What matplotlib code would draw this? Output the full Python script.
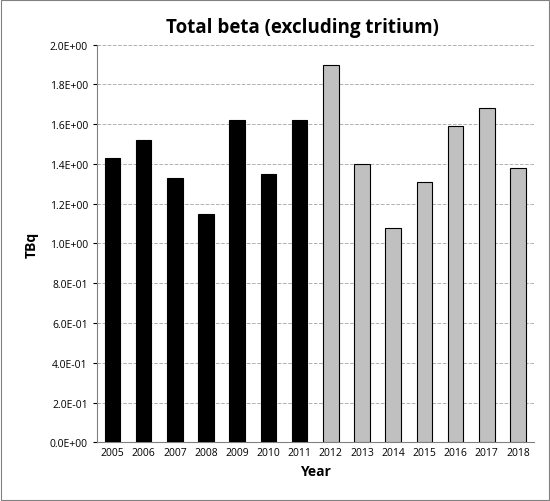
import matplotlib
matplotlib.use("Agg")
import matplotlib.pyplot as plt
from matplotlib.patches import Rectangle

years = ["2005","2006","2007","2008","2009","2010","2011","2012","2013","2014","2015","2016","2017","2018"]
values = [1.43,1.52,1.33,1.15,1.62,1.35,1.62,1.90,1.40,1.08,1.31,1.59,1.68,1.38]
colors = ["black"]*7 + ["#c0c0c0"]*7
yticks = [0.0,0.2,0.4,0.6,0.8,1.0,1.2,1.4,1.6,1.8,2.0]
ylabels = ["0.0E+00","2.0E-01","4.0E-01","6.0E-01","8.0E-01","1.0E+00","1.2E+00","1.4E+00","1.6E+00","1.8E+00","2.0E+00"]

plt.rcParams['font.family'] = ['Open Sans', 'DejaVu Sans']
fig = plt.figure(figsize=(5.5,5.02), dpi=100)
ax = fig.add_axes([0.176, 0.117, 0.794, 0.792])
x = list(range(len(years)))
ax.bar(x, values, width=0.5, color=colors, edgecolor="black", linewidth=0.8, zorder=3)
ax.set_xlim(-0.5, len(years)-0.5)
ax.set_ylim(0, 2.0)
ax.set_yticks(yticks)
ax.set_yticklabels(ylabels, fontsize=7.5)
ax.set_xticks(x)
ax.set_xticklabels(years, fontsize=7.5)
ax.yaxis.grid(True, linestyle="--", color="#b0b0b0", linewidth=0.7, zorder=0)
ax.tick_params(axis='x', length=0)
ax.tick_params(axis='y', length=3)
for s in ["top","right"]:
    ax.spines[s].set_visible(False)
ax.spines["left"].set_color("#808080")
ax.spines["bottom"].set_color("#808080")
ax.set_xlabel("Year", fontsize=10, fontweight="bold", labelpad=4)
ax.set_ylabel("TBq", fontsize=10, fontweight="bold", labelpad=8)
fig.text(0.55, 0.945, "Total beta (excluding tritium)", ha="center", va="center", fontsize=13.5, fontweight="bold")
fig.patches.append(Rectangle((0.002,0.002),0.996,0.996, transform=fig.transFigure, fill=False, edgecolor="#808080", linewidth=0.8))
fig.savefig("out.png", dpi=100)
